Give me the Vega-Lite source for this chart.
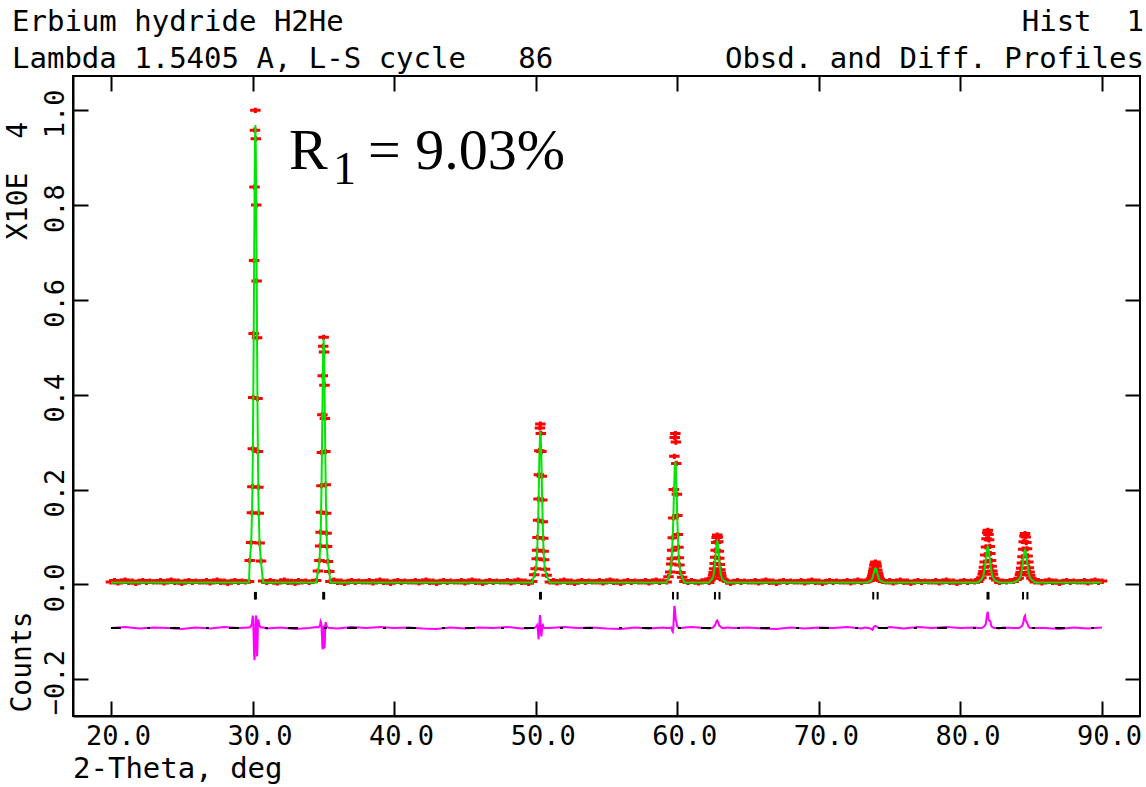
{
"$schema":"https://vega.github.io/schema/vega-lite/v6.json",
"width":1067,"height":640,
"autosize":{"type":"none"},
"padding":{"left":73,"top":76,"right":6,"bottom":71},
"background":"white",
"config":{"view":{"stroke":"black","strokeWidth":2}},
"datasets":{
"prof":[
{"x":20,"o":0.005,"c":0.004,"d":-0.092},{"x":20.25,"o":0.008},{"x":20.5,"o":0.003},{"x":20.75,"o":0.006},
{"x":21,"o":0.009,"d":-0.090},{"x":21.25,"o":0.004},{"x":21.5,"o":0.007},{"x":21.75,"o":0.002},
{"x":22,"o":0.006,"d":-0.093},{"x":22.25,"o":0.008},{"x":22.5,"o":0.004},{"x":22.75,"o":0.007},
{"x":23,"o":0.005,"d":-0.091},{"x":23.25,"o":0.005},{"x":23.5,"o":0.008},{"x":23.75,"o":0.003},
{"x":24,"o":0.006,"d":-0.092},{"x":24.25,"o":0.009},{"x":24.5,"o":0.004},{"x":24.75,"o":0.007},
{"x":25,"o":0.002,"d":-0.094},{"x":25.25,"o":0.006},{"x":25.5,"o":0.008},{"x":25.75,"o":0.004},
{"x":26,"o":0.007,"d":-0.091},{"x":26.25,"o":0.005},{"x":26.5,"o":0.005},{"x":26.75,"o":0.008},
{"x":27,"o":0.003,"d":-0.093},{"x":27.25,"o":0.006},{"x":27.5,"o":0.009},{"x":27.75,"o":0.004},
{"x":28,"o":0.007,"d":-0.090},{"x":28.25,"o":0.002},{"x":28.5,"o":0.006},{"x":28.75,"o":0.008},
{"x":29,"o":0.004,"d":-0.092},{"x":29.25,"o":0.007},{"x":29.5,"o":0.005},{"x":29.75,"o":0.006,"c":0.004,"d":-0.091},
{"x":29.80,"o":0.05,"c":0.047,"d":-0.091},{"x":29.90,"o":0.088,"c":0.084,"d":-0.088},{"x":29.96,"o":0.151,"c":0.145,"d":-0.082},
{"x":29.99,"o":0.206,"c":0.198,"d":-0.072},{"x":30.02,"o":0.286,"c":0.275,"d":-0.066},{"x":30.05,"o":0.394,"c":0.379,"d":-0.080},
{"x":30.08,"o":0.529,"c":0.510,"d":-0.112},{"x":30.11,"o":0.683,"c":0.658,"d":-0.147},{"x":30.14,"o":0.838,"c":0.808,"d":-0.160},
{"x":30.17,"o":0.958,"c":0.924,"d":-0.137},{"x":30.20,"o":1.0,"c":0.969,"d":-0.102},{"x":30.23,"o":0.94,"c":0.924,"d":-0.068},
{"x":30.26,"o":0.80,"c":0.808,"d":-0.066},{"x":30.29,"o":0.64,"c":0.658,"d":-0.112},{"x":30.32,"o":0.52,"c":0.510,"d":-0.152},
{"x":30.35,"o":0.392,"c":0.379,"d":-0.132},{"x":30.38,"o":0.28,"c":0.275,"d":-0.084},{"x":30.41,"o":0.205,"c":0.198,"d":-0.074},
{"x":30.44,"o":0.15,"c":0.145,"d":-0.080},{"x":30.50,"o":0.087,"c":0.084,"d":-0.088},{"x":30.60,"o":0.049,"c":0.047,"d":-0.091},
{"x":30.75,"o":0.007,"c":0.004,"d":-0.091},{"x":31,"o":0.004,"d":-0.093},{"x":31.25,"o":0.008},{"x":31.5,"o":0.005},{"x":31.75,"o":0.003},
{"x":32,"o":0.007,"d":-0.091},{"x":32.25,"o":0.009},{"x":32.5,"o":0.004},{"x":32.75,"o":0.006},
{"x":33,"o":0.002,"d":-0.094},{"x":33.25,"o":0.008},{"x":33.5,"o":0.005},{"x":33.75,"o":0.007},
{"x":34,"o":0.004,"d":-0.092},{"x":34.25,"o":0.006},{"x":34.5,"o":0.008,"c":0.004,"d":-0.090},
{"x":34.62,"o":0.028,"c":0.027,"d":-0.091},{"x":34.72,"o":0.05,"c":0.047,"d":-0.089},{"x":34.78,"o":0.081,"c":0.079,"d":-0.084},
{"x":34.81,"o":0.11,"c":0.107,"d":-0.078},{"x":34.84,"o":0.152,"c":0.148,"d":-0.080},{"x":34.87,"o":0.208,"c":0.204,"d":-0.088},
{"x":34.90,"o":0.278,"c":0.273,"d":-0.107},{"x":34.93,"o":0.358,"c":0.352,"d":-0.132},{"x":34.96,"o":0.44,"c":0.432,"d":-0.137},
{"x":34.99,"o":0.502,"c":0.494,"d":-0.112},{"x":35.02,"o":0.521,"c":0.518,"d":-0.087},{"x":35.05,"o":0.49,"c":0.494,"d":-0.117},
{"x":35.08,"o":0.42,"c":0.432,"d":-0.135},{"x":35.11,"o":0.35,"c":0.352,"d":-0.122},{"x":35.14,"o":0.28,"c":0.273,"d":-0.086},
{"x":35.17,"o":0.21,"c":0.204,"d":-0.080},{"x":35.20,"o":0.15,"c":0.148,"d":-0.084},{"x":35.23,"o":0.108,"c":0.107,"d":-0.088},
{"x":35.26,"o":0.08,"c":0.079,"d":-0.090},{"x":35.32,"o":0.048,"c":0.047,"d":-0.091},{"x":35.42,"o":0.027,"c":0.027,"d":-0.092},
{"x":35.5,"o":0.006,"c":0.004,"d":-0.092},{"x":35.75,"o":0.009},{"x":36,"o":0.004,"d":-0.093},{"x":36.25,"o":0.007},{"x":36.5,"o":0.002},{"x":36.75,"o":0.006},
{"x":37,"o":0.008,"d":-0.090},{"x":37.25,"o":0.004},{"x":37.5,"o":0.007},{"x":37.75,"o":0.005},
{"x":38,"o":0.005,"d":-0.092},{"x":38.25,"o":0.008},{"x":38.5,"o":0.003},{"x":38.75,"o":0.006},
{"x":39,"o":0.009,"d":-0.090},{"x":39.25,"o":0.004},{"x":39.5,"o":0.007},{"x":39.75,"o":0.002},
{"x":40,"o":0.006,"d":-0.092},{"x":40.25,"o":0.008},{"x":40.5,"o":0.004},{"x":40.75,"o":0.007},
{"x":41,"o":0.005,"d":-0.091},{"x":41.25,"o":0.005},{"x":41.5,"o":0.008},{"x":41.75,"o":0.003},
{"x":42,"o":0.006,"d":-0.093},{"x":42.25,"o":0.009},{"x":42.5,"o":0.004},{"x":42.75,"o":0.007},
{"x":43,"o":0.002,"d":-0.094},{"x":43.25,"o":0.006},{"x":43.5,"o":0.008},{"x":43.75,"o":0.004},
{"x":44,"o":0.007,"d":-0.091},{"x":44.25,"o":0.005},{"x":44.5,"o":0.005},{"x":44.75,"o":0.008},
{"x":45,"o":0.003,"d":-0.093},{"x":45.25,"o":0.006},{"x":45.5,"o":0.009},{"x":45.75,"o":0.004},
{"x":46,"o":0.007,"d":-0.091},{"x":46.25,"o":0.002},{"x":46.5,"o":0.006},{"x":46.75,"o":0.008},
{"x":47,"o":0.004,"d":-0.092},{"x":47.25,"o":0.007},{"x":47.5,"o":0.005},{"x":47.75,"o":0.005},
{"x":48,"o":0.008,"d":-0.090},{"x":48.25,"o":0.003},{"x":48.5,"o":0.006},{"x":48.75,"o":0.009},
{"x":49,"o":0.004,"d":-0.093},{"x":49.25,"o":0.007},{"x":49.5,"o":0.002},{"x":49.75,"o":0.006,"c":0.004,"d":-0.092},
{"x":49.89,"o":0.02,"c":0.018,"d":-0.092},{"x":50.00,"o":0.033,"c":0.030,"d":-0.090},{"x":50.07,"o":0.054,"c":0.050,"d":-0.088},
{"x":50.10,"o":0.072,"c":0.068,"d":-0.086},{"x":50.13,"o":0.099,"c":0.093,"d":-0.089},{"x":50.17,"o":0.135,"c":0.128,"d":-0.102},
{"x":50.20,"o":0.18,"c":0.171,"d":-0.116},{"x":50.23,"o":0.231,"c":0.220,"d":-0.107},{"x":50.26,"o":0.282,"c":0.269,"d":-0.082},
{"x":50.30,"o":0.33,"c":0.307,"d":-0.065},{"x":50.33,"o":0.338,"c":0.322,"d":-0.072},{"x":50.36,"o":0.318,"c":0.307,"d":-0.097},
{"x":50.40,"o":0.28,"c":0.269,"d":-0.110},{"x":50.43,"o":0.228,"c":0.220,"d":-0.102},{"x":50.46,"o":0.178,"c":0.171,"d":-0.088},
{"x":50.50,"o":0.132,"c":0.128,"d":-0.086},{"x":50.53,"o":0.097,"c":0.093,"d":-0.089},{"x":50.56,"o":0.07,"c":0.068,"d":-0.091},
{"x":50.59,"o":0.052,"c":0.050,"d":-0.092},{"x":50.66,"o":0.032,"c":0.030,"d":-0.092},{"x":50.77,"o":0.019,"c":0.018,"d":-0.092},
{"x":51,"o":0.005,"c":0.004,"d":-0.092},{"x":51.25,"o":0.008},{"x":51.5,"o":0.003},{"x":51.75,"o":0.006},
{"x":52,"o":0.009,"d":-0.090},{"x":52.25,"o":0.004},{"x":52.5,"o":0.007},{"x":52.75,"o":0.002},
{"x":53,"o":0.006,"d":-0.092},{"x":53.25,"o":0.008},{"x":53.5,"o":0.004},{"x":53.75,"o":0.007},
{"x":54,"o":0.005,"d":-0.091},{"x":54.25,"o":0.005},{"x":54.5,"o":0.008},{"x":54.75,"o":0.003},
{"x":55,"o":0.006,"d":-0.093},{"x":55.25,"o":0.009},{"x":55.5,"o":0.004},{"x":55.75,"o":0.007},
{"x":56,"o":0.002,"d":-0.094},{"x":56.25,"o":0.006},{"x":56.5,"o":0.008},{"x":56.75,"o":0.004},
{"x":57,"o":0.007,"d":-0.091},{"x":57.25,"o":0.005},{"x":57.5,"o":0.005},{"x":57.75,"o":0.008},
{"x":58,"o":0.003,"d":-0.093},{"x":58.25,"o":0.006},{"x":58.5,"o":0.009},{"x":58.75,"o":0.004},
{"x":59,"o":0.007,"d":-0.091},{"x":59.25,"o":0.005,"c":0.004,"d":-0.092},
{"x":59.38,"o":0.016,"c":0.015,"d":-0.092},{"x":59.50,"o":0.026,"c":0.025,"d":-0.092},{"x":59.57,"o":0.043,"c":0.041,"d":-0.091},
{"x":59.61,"o":0.054,"c":0.055,"d":-0.094},{"x":59.64,"o":0.072,"c":0.076,"d":-0.098},{"x":59.68,"o":0.098,"c":0.103,"d":-0.100},
{"x":59.72,"o":0.14,"c":0.138,"d":-0.092},{"x":59.75,"o":0.2,"c":0.177,"d":-0.072},{"x":59.79,"o":0.27,"c":0.216,"d":-0.046},
{"x":59.82,"o":0.31,"c":0.247,"d":-0.049},{"x":59.86,"o":0.318,"c":0.259,"d":-0.062},{"x":59.90,"o":0.30,"c":0.247,"d":-0.077},
{"x":59.93,"o":0.255,"c":0.216,"d":-0.078},{"x":59.97,"o":0.19,"c":0.177,"d":-0.086},{"x":60.00,"o":0.145,"c":0.138,"d":-0.089},
{"x":60.04,"o":0.105,"c":0.103,"d":-0.090},{"x":60.08,"o":0.078,"c":0.076,"d":-0.091},{"x":60.11,"o":0.056,"c":0.055,"d":-0.092},
{"x":60.15,"o":0.041,"c":0.041,"d":-0.092},{"x":60.22,"o":0.025,"c":0.025,"d":-0.092},{"x":60.34,"o":0.015,"c":0.015,"d":-0.092},
{"x":60.5,"o":0.006,"c":0.004,"d":-0.091},{"x":60.75,"o":0.004},{"x":61,"o":0.008,"d":-0.090},{"x":61.25,"o":0.005},
{"x":61.5,"o":0.003},{"x":61.75,"o":0.007},{"x":62,"o":0.009,"d":-0.092},{"x":62.25,"o":0.004,"c":0.004,"d":-0.093},
{"x":62.34,"o":0.009,"c":0.008,"d":-0.092},{"x":62.46,"o":0.013,"c":0.011,"d":-0.092},{"x":62.53,"o":0.019,"c":0.017,"d":-0.091},
{"x":62.57,"o":0.025,"c":0.021,"d":-0.090},{"x":62.60,"o":0.033,"c":0.028,"d":-0.088},{"x":62.64,"o":0.044,"c":0.038,"d":-0.087},
{"x":62.68,"o":0.057,"c":0.050,"d":-0.085},{"x":62.71,"o":0.072,"c":0.063,"d":-0.083},{"x":62.75,"o":0.088,"c":0.076,"d":-0.080},
{"x":62.78,"o":0.099,"c":0.087,"d":-0.077},{"x":62.82,"o":0.104,"c":0.091,"d":-0.076},{"x":62.86,"o":0.1,"c":0.087,"d":-0.079},
{"x":62.89,"o":0.09,"c":0.076,"d":-0.080},{"x":62.93,"o":0.07,"c":0.063,"d":-0.084},{"x":62.96,"o":0.055,"c":0.050,"d":-0.087},
{"x":63.00,"o":0.042,"c":0.038,"d":-0.088},{"x":63.04,"o":0.031,"c":0.028,"d":-0.089},{"x":63.07,"o":0.024,"c":0.021,"d":-0.090},
{"x":63.11,"o":0.018,"c":0.017,"d":-0.091},{"x":63.18,"o":0.012,"c":0.011,"d":-0.092},{"x":63.30,"o":0.009,"c":0.008,"d":-0.092},
{"x":63.5,"o":0.007,"c":0.004,"d":-0.091},{"x":63.75,"o":0.002},{"x":64,"o":0.006,"d":-0.092},{"x":64.25,"o":0.008},{"x":64.5,"o":0.004},{"x":64.75,"o":0.007},
{"x":65,"o":0.005,"d":-0.091},{"x":65.25,"o":0.005},{"x":65.5,"o":0.008},{"x":65.75,"o":0.003},
{"x":66,"o":0.006,"d":-0.093},{"x":66.25,"o":0.009},{"x":66.5,"o":0.004},{"x":66.75,"o":0.007},
{"x":67,"o":0.002,"d":-0.094},{"x":67.25,"o":0.006},{"x":67.5,"o":0.008},{"x":67.75,"o":0.004},
{"x":68,"o":0.007,"d":-0.091},{"x":68.25,"o":0.005},{"x":68.5,"o":0.005},{"x":68.75,"o":0.008},
{"x":69,"o":0.003,"d":-0.093},{"x":69.25,"o":0.006},{"x":69.5,"o":0.009},{"x":69.75,"o":0.004},
{"x":70,"o":0.007,"d":-0.091},{"x":70.25,"o":0.002},{"x":70.5,"o":0.006},{"x":70.75,"o":0.008},
{"x":71,"o":0.004,"d":-0.092},{"x":71.25,"o":0.007},{"x":71.5,"o":0.005},{"x":71.75,"o":0.005},
{"x":72,"o":0.008,"d":-0.090},{"x":72.25,"o":0.003},{"x":72.5,"o":0.006},{"x":72.75,"o":0.009},
{"x":73,"o":0.004,"d":-0.093},{"x":73.25,"o":0.007,"c":0.004,"d":-0.091},
{"x":73.48,"o":0.007,"c":0.005,"d":-0.092},{"x":73.61,"o":0.008,"c":0.007,"d":-0.093},{"x":73.69,"o":0.011,"c":0.008,"d":-0.094},
{"x":73.73,"o":0.013,"c":0.010,"d":-0.095},{"x":73.77,"o":0.017,"c":0.012,"d":-0.096},{"x":73.81,"o":0.021,"c":0.016,"d":-0.095},
{"x":73.84,"o":0.027,"c":0.020,"d":-0.092},{"x":73.88,"o":0.033,"c":0.024,"d":-0.090},{"x":73.92,"o":0.04,"c":0.029,"d":-0.089},
{"x":73.96,"o":0.045,"c":0.033,"d":-0.088},{"x":74.00,"o":0.047,"c":0.034,"d":-0.088},{"x":74.04,"o":0.044,"c":0.033,"d":-0.089},
{"x":74.08,"o":0.038,"c":0.029,"d":-0.089},{"x":74.12,"o":0.03,"c":0.024,"d":-0.090},{"x":74.16,"o":0.024,"c":0.020,"d":-0.091},
{"x":74.20,"o":0.02,"c":0.016,"d":-0.091},{"x":74.23,"o":0.015,"c":0.012,"d":-0.092},{"x":74.27,"o":0.012,"c":0.010,"d":-0.092},
{"x":74.31,"o":0.01,"c":0.008,"d":-0.092},{"x":74.39,"o":0.008,"c":0.007,"d":-0.092},{"x":74.52,"o":0.006,"c":0.005,"d":-0.092},
{"x":74.75,"o":0.005,"c":0.004,"d":-0.092},{"x":75,"o":0.008,"d":-0.090},{"x":75.25,"o":0.003},{"x":75.5,"o":0.006},{"x":75.75,"o":0.009},
{"x":76,"o":0.004,"d":-0.093},{"x":76.25,"o":0.007},{"x":76.5,"o":0.002},{"x":76.75,"o":0.006},
{"x":77,"o":0.008,"d":-0.090},{"x":77.25,"o":0.004},{"x":77.5,"o":0.007},{"x":77.75,"o":0.005},
{"x":78,"o":0.005,"d":-0.092},{"x":78.25,"o":0.008},{"x":78.5,"o":0.003},{"x":78.75,"o":0.006},
{"x":79,"o":0.009,"d":-0.090},{"x":79.25,"o":0.004},{"x":79.5,"o":0.007},{"x":79.75,"o":0.002},
{"x":80,"o":0.006,"d":-0.092},{"x":80.25,"o":0.008},{"x":80.5,"o":0.004},{"x":80.75,"o":0.007},
{"x":81,"o":0.005,"d":-0.091},{"x":81.25,"o":0.006,"c":0.004,"d":-0.092},
{"x":81.33,"o":0.01,"c":0.007,"d":-0.092},{"x":81.48,"o":0.014,"c":0.010,"d":-0.092},{"x":81.57,"o":0.021,"c":0.015,"d":-0.091},
{"x":81.62,"o":0.027,"c":0.019,"d":-0.090},{"x":81.66,"o":0.036,"c":0.025,"d":-0.089},{"x":81.71,"o":0.047,"c":0.033,"d":-0.088},
{"x":81.75,"o":0.062,"c":0.043,"d":-0.086},{"x":81.80,"o":0.079,"c":0.055,"d":-0.082},{"x":81.84,"o":0.096,"c":0.066,"d":-0.072},
{"x":81.89,"o":0.109,"c":0.075,"d":-0.062},{"x":81.93,"o":0.114,"c":0.079,"d":-0.058},{"x":81.98,"o":0.105,"c":0.075,"d":-0.072},
{"x":82.02,"o":0.094,"c":0.066,"d":-0.076},{"x":82.07,"o":0.08,"c":0.055,"d":-0.077},{"x":82.11,"o":0.065,"c":0.043,"d":-0.078},
{"x":82.16,"o":0.05,"c":0.033,"d":-0.086},{"x":82.20,"o":0.038,"c":0.025,"d":-0.089},{"x":82.25,"o":0.028,"c":0.019,"d":-0.090},
{"x":82.29,"o":0.021,"c":0.015,"d":-0.091},{"x":82.38,"o":0.013,"c":0.010,"d":-0.092},{"x":82.53,"o":0.009,"c":0.007,"d":-0.092},
{"x":82.75,"o":0.004,"c":0.004,"d":-0.093},{"x":83,"o":0.007,"d":-0.091},{"x":83.25,"o":0.005},{"x":83.5,"o":0.008},{"x":83.75,"o":0.006,"c":0.004,"d":-0.092},
{"x":83.96,"o":0.01,"c":0.007,"d":-0.092},{"x":84.11,"o":0.013,"c":0.010,"d":-0.092},{"x":84.20,"o":0.02,"c":0.014,"d":-0.091},
{"x":84.25,"o":0.025,"c":0.018,"d":-0.090},{"x":84.29,"o":0.034,"c":0.023,"d":-0.089},{"x":84.34,"o":0.045,"c":0.030,"d":-0.088},
{"x":84.38,"o":0.058,"c":0.040,"d":-0.086},{"x":84.43,"o":0.074,"c":0.050,"d":-0.082},{"x":84.47,"o":0.09,"c":0.061,"d":-0.074},
{"x":84.52,"o":0.102,"c":0.069,"d":-0.068},{"x":84.56,"o":0.107,"c":0.072,"d":-0.066},{"x":84.61,"o":0.1,"c":0.069,"d":-0.077},
{"x":84.65,"o":0.088,"c":0.061,"d":-0.079},{"x":84.70,"o":0.075,"c":0.050,"d":-0.080},{"x":84.74,"o":0.06,"c":0.040,"d":-0.084},
{"x":84.79,"o":0.047,"c":0.030,"d":-0.088},{"x":84.83,"o":0.035,"c":0.023,"d":-0.090},{"x":84.88,"o":0.026,"c":0.018,"d":-0.091},
{"x":84.92,"o":0.019,"c":0.014,"d":-0.092},{"x":85.01,"o":0.013,"c":0.010,"d":-0.092},{"x":85.16,"o":0.009,"c":0.007,"d":-0.092},
{"x":85.25,"o":0.005,"c":0.004,"d":-0.092},{"x":85.5,"o":0.008},{"x":85.75,"o":0.003},
{"x":86,"o":0.006,"d":-0.092},{"x":86.25,"o":0.009},{"x":86.5,"o":0.004},{"x":86.75,"o":0.007},
{"x":87,"o":0.002,"d":-0.094},{"x":87.25,"o":0.006},{"x":87.5,"o":0.008},{"x":87.75,"o":0.004},
{"x":88,"o":0.007,"d":-0.091},{"x":88.25,"o":0.005},{"x":88.5,"o":0.005},{"x":88.75,"o":0.008},
{"x":89,"o":0.003,"d":-0.093},{"x":89.25,"o":0.006},{"x":89.5,"o":0.009},{"x":89.75,"o":0.004},
{"x":90,"o":0.007,"c":0.004,"d":-0.091}
],
"refl":[
{"x":30.17},{"x":30.24},{"x":34.99},{"x":35.06},{"x":50.30},{"x":50.37},{"x":59.70},{"x":60.02},
{"x":62.66},{"x":62.98},{"x":73.84},{"x":74.15},{"x":81.91},{"x":81.98},{"x":84.42},{"x":84.73}
]
},
"layer":[
{"data":{"name":"prof"},
 "mark":{"type":"point","shape":"M-1,0L1,0M0,-0.5L0,0.5","filled":false,"stroke":"#ff0000","strokeWidth":3,"size":110,"opacity":1},
 "encoding":{
  "x":{"field":"x","type":"quantitative","scale":{"domain":[17.32,92.68],"nice":false,"zero":false},
   "axis":{"orient":"bottom","values":[20,30,40,50,60,70,80,90],"format":".1f","title":null,"grid":false,"domain":true,"domainColor":"black","domainWidth":2,"ticks":true,"tickSize":-15,"tickWidth":2,"tickColor":"black","labelFont":"DejaVu Sans Mono","labelFontSize":27,"labelColor":"black","labelPadding":22,"labelOffset":7,"labelAlign":"center","labelBaseline":"top","labelOverlap":false,"labelFlush":false}},
  "y":{"field":"o","type":"quantitative","scale":{"domain":[-0.2778,1.0724],"nice":false,"zero":false},
   "axis":{"orient":"left","values":[-0.2,0,0.2,0.4,0.6,0.8,1],"format":".1f","title":null,"grid":false,"domain":true,"domainColor":"black","domainWidth":2,"ticks":true,"tickSize":-15,"tickWidth":2,"tickColor":"black","labelFont":"DejaVu Sans Mono","labelFontSize":27,"labelColor":"black","labelAngle":270,"labelAlign":"center","labelBaseline":"alphabetic","labelPadding":25,"labelOffset":3,"labelOverlap":false,"labelFlush":false}}
 }},
{"data":{"name":"prof"},
 "transform":[{"filter":"isValid(datum.c)"}],
 "mark":{"type":"line","color":"#00e600","strokeWidth":2},
 "encoding":{
  "x":{"field":"x","type":"quantitative","scale":{"domain":[17.32,92.68],"nice":false,"zero":false},
   "axis":{"orient":"top","values":[20,30,40,50,60,70,80,90],"labels":false,"domain":false,"title":null,"grid":false,"ticks":true,"tickSize":-15,"tickWidth":2,"tickColor":"black"}},
  "y":{"field":"c","type":"quantitative","scale":{"domain":[-0.2778,1.0724],"nice":false,"zero":false},
   "axis":{"orient":"right","values":[-0.2,0,0.2,0.4,0.6,0.8,1],"labels":false,"domain":false,"title":null,"grid":false,"ticks":true,"tickSize":-15,"tickWidth":2,"tickColor":"black"}}
 }},
{"data":{"name":"prof"},
 "transform":[{"filter":"isValid(datum.d)"}],
 "mark":{"type":"line","color":"#ff00ff","strokeWidth":2},
 "encoding":{
  "x":{"field":"x","type":"quantitative","scale":{"domain":[17.32,92.68],"nice":false,"zero":false},"axis":null},
  "y":{"field":"d","type":"quantitative","scale":{"domain":[-0.2778,1.0724],"nice":false,"zero":false},"axis":null}
 }},
{"data":{"values":[{"a":1}]},
 "mark":{"type":"rule","color":"black","strokeWidth":2,"strokeDash":[10,26,3,20]},
 "encoding":{
  "x":{"datum":20,"type":"quantitative","scale":{"domain":[17.32,92.68],"nice":false,"zero":false},"axis":null},
  "x2":{"datum":90},
  "y":{"datum":-0.092,"type":"quantitative","scale":{"domain":[-0.2778,1.0724],"nice":false,"zero":false},"axis":null}
 }},
{"data":{"name":"refl"},
 "mark":{"type":"rule","color":"black","strokeWidth":2},
 "encoding":{
  "x":{"field":"x","type":"quantitative","scale":{"domain":[17.32,92.68],"nice":false,"zero":false},"axis":null},
  "y":{"datum":-0.016,"type":"quantitative","scale":{"domain":[-0.2778,1.0724],"nice":false,"zero":false},"axis":null},
  "y2":{"datum":-0.032}
 }},
{"data":{"values":[
  {"t":"Erbium hydride H2He","x":13.012,"y":1.1673},
  {"t":"Lambda 1.5405 A, L-S cycle\u00a0\u00a0\u00a086","x":13.012,"y":1.0903},
  {"t":"2-Theta, deg","x":17.32,"y":-0.4084}]},
 "mark":{"type":"text","font":"DejaVu Sans Mono","fontSize":29,"align":"left","baseline":"alphabetic","color":"black"},
 "encoding":{
  "x":{"field":"x","type":"quantitative","scale":{"domain":[17.32,92.68],"nice":false,"zero":false},"axis":null},
  "y":{"field":"y","type":"quantitative","scale":{"domain":[-0.2778,1.0724],"nice":false,"zero":false},"axis":null},
  "text":{"field":"t"}
 }},
{"data":{"values":[
  {"t":"Hist\u00a0\u00a01","x":92.96,"y":1.1673},
  {"t":"Obsd. and Diff. Profiles","x":92.96,"y":1.0903}]},
 "mark":{"type":"text","font":"DejaVu Sans Mono","fontSize":29,"align":"right","baseline":"alphabetic","color":"black"},
 "encoding":{
  "x":{"field":"x","type":"quantitative","scale":{"domain":[17.32,92.68],"nice":false,"zero":false},"axis":null},
  "y":{"field":"y","type":"quantitative","scale":{"domain":[-0.2778,1.0724],"nice":false,"zero":false},"axis":null},
  "text":{"field":"t"}
 }},
{"data":{"values":[
  {"t":"X10E\u00a0\u00a04","x":14.071,"y":0.8509},
  {"t":"Counts","x":14.354,"y":-0.1637}]},
 "mark":{"type":"text","font":"DejaVu Sans Mono","fontSize":28,"align":"center","baseline":"alphabetic","angle":270,"color":"black"},
 "encoding":{
  "x":{"field":"x","type":"quantitative","scale":{"domain":[17.32,92.68],"nice":false,"zero":false},"axis":null},
  "y":{"field":"y","type":"quantitative","scale":{"domain":[-0.2778,1.0724],"nice":false,"zero":false},"axis":null},
  "text":{"field":"t"}
 }},
{"data":{"values":[
  {"t":"R","x":32.575,"y":0.8756},
  {"t":"= 9.03%","x":38.155,"y":0.8756}]},
 "mark":{"type":"text","font":"Liberation Serif","fontSize":58,"align":"left","baseline":"alphabetic","color":"black"},
 "encoding":{
  "x":{"field":"x","type":"quantitative","scale":{"domain":[17.32,92.68],"nice":false,"zero":false},"axis":null},
  "y":{"field":"y","type":"quantitative","scale":{"domain":[-0.2778,1.0724],"nice":false,"zero":false},"axis":null},
  "text":{"field":"t"}
 }},
{"data":{"values":[
  {"t":"1","x":35.683,"y":0.8446}]},
 "mark":{"type":"text","font":"Liberation Serif","fontSize":46,"align":"left","baseline":"alphabetic","color":"black"},
 "encoding":{
  "x":{"field":"x","type":"quantitative","scale":{"domain":[17.32,92.68],"nice":false,"zero":false},"axis":null},
  "y":{"field":"y","type":"quantitative","scale":{"domain":[-0.2778,1.0724],"nice":false,"zero":false},"axis":null},
  "text":{"field":"t"}
 }}
],
"resolve":{"axis":{"x":"independent","y":"independent"}}
}
